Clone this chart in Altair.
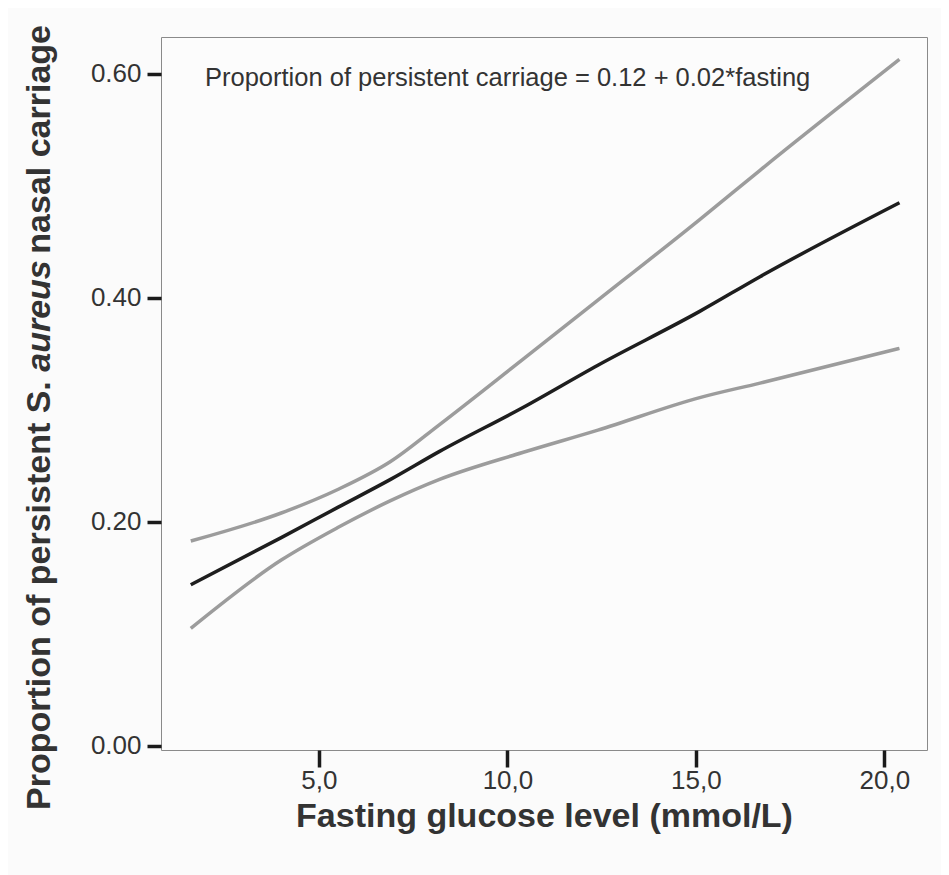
import altair as alt
import pandas as pd

# Values
fasting = [1.6, 4.0, 5.5, 6.9, 8.2, 10.4, 12.4, 15.1, 16.7, 20.4]
fit = [0.144, 0.186, 0.213, 0.238, 0.263, 0.302, 0.340, 0.388, 0.419, 0.485]
upper = [0.183, 0.208, 0.229, 0.254, 0.287, 0.345, 0.398, 0.470, 0.514, 0.613]
lower = [0.105, 0.166, 0.195, 0.219, 0.238, 0.262, 0.282, 0.311, 0.324, 0.355]
series_names = ["upper", "lower", "fit"]
x_ticks = [5, 10, 15, 20]
y_ticks = [0.0, 0.2, 0.4, 0.6]
annotation = "Proportion of persistent carriage = 0.12 + 0.02*fasting"
x_title = "Fasting glucose level (mmol/L)"
y_title_parts = ["Proportion of persistent S.", "aureus", "nasal carriage"]

rows = []
for name, vals in zip(series_names, [upper, lower, fit]):
    for f, v in zip(fasting, vals):
        rows.append({"fasting": f, "value": v, "series": name})
df = pd.DataFrame(rows)

FONT = "Liberation Sans, Arial, sans-serif"
TXT = "#333333"

x_scale = alt.Scale(domain=[0.81, 21.13], nice=False, zero=False)
y_scale = alt.Scale(domain=[-0.0036, 0.633], nice=False, zero=False)

lines = alt.Chart(df).mark_line(strokeWidth=3.5, interpolate="monotone").encode(
    x=alt.X("fasting:Q", scale=x_scale,
            axis=alt.Axis(values=x_ticks,
                          labelExpr="replace(format(datum.value, '.1f'), '.', ',')",
                          tickSize=17, tickWidth=3.5, tickColor="#1a1a1a",
                          domain=False, grid=False,
                          labelFont=FONT, labelFontSize=26, labelColor=TXT,
                          labelPadding=0,
                          title=x_title, titleFont=FONT, titleFontSize=34,
                          titleFontWeight="bold", titleColor=TXT, titlePadding=6)),
    y=alt.Y("value:Q", scale=y_scale,
            axis=alt.Axis(values=y_ticks, format=".2f",
                          tickSize=14, tickWidth=3.5, tickColor="#1a1a1a",
                          domain=False, grid=False,
                          labelFont=FONT, labelFontSize=26, labelColor=TXT,
                          labelPadding=6, title=None)),
    color=alt.Color("series:N",
                    scale=alt.Scale(domain=series_names,
                                    range=["#9c9c9c", "#9c9c9c", "#1e1e1e"]),
                    legend=None),
)

ann = alt.Chart(pd.DataFrame({"t": [annotation]})).mark_text(
    align="left", baseline="middle", font=FONT, fontSize=25.5, color=TXT
).encode(text="t:N", x=alt.value(44), y=alt.value(41))

yt1 = alt.Chart(pd.DataFrame({"t": [y_title_parts[0]]})).mark_text(
    align="left", baseline="middle", angle=270, font=FONT, fontSize=34,
    fontWeight="bold", color=TXT
).encode(text="t:N", x=alt.value(-121), y=alt.value(773))

yt2 = alt.Chart(pd.DataFrame({"t": [y_title_parts[1]]})).mark_text(
    align="center", baseline="middle", angle=270, font=FONT, fontSize=34,
    fontWeight="bold", fontStyle="italic", color=TXT
).encode(text="t:N", x=alt.value(-121), y=alt.value(279))

yt3 = alt.Chart(pd.DataFrame({"t": [y_title_parts[2]]})).mark_text(
    align="right", baseline="middle", angle=270, font=FONT, fontSize=34,
    fontWeight="bold", color=TXT
).encode(text="t:N", x=alt.value(-121), y=alt.value(-12))

chart = alt.layer(lines, ann, yt1, yt2, yt3).properties(
    width=766, height=713,
    autosize=alt.AutoSizeParams(type="none"),
    padding={"left": 153, "top": 29, "right": 14, "bottom": 125},
    background="#fbfbfb",
).configure_view(stroke="#8a8a8a", strokeWidth=1, fill="#fcfcfc")

chart.save("out.html", embed_options={"renderer": "svg", "actions": False})
